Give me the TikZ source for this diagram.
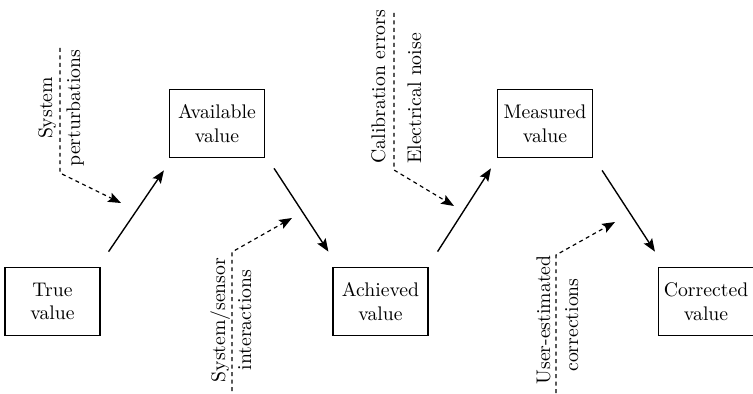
\documentclass[tikz,border=0pt]{standalone}
\usetikzlibrary{arrows.meta,calc}
\begin{document}
\begin{tikzpicture}[x=0.5076pt,y=-0.5076pt,
  valbox/.style={draw,line width=0.6pt,minimum width=48.2pt,minimum height=34.8pt,align=center,inner sep=0pt},
  flow/.style={line width=0.7pt,-{Stealth[length=6.5pt,width=5pt,inset=1.2pt]}},
  influence/.style={line width=0.6pt,dash pattern=on 2pt off 1.8pt,-{Stealth[length=6.5pt,width=5pt,inset=1.2pt]}},
  lbl/.style={rotate=90,anchor=base,inner sep=0pt}]
\useasboundingbox (0,0) rectangle (753,393);
% value boxes
\node[valbox] (true)  at (52.5,301.5) {True\\value};
\node[valbox] (avail) at (217,123.5)  {Available\\value};
\node[valbox] (achv)  at (380.5,301.5) {Achieved\\value};
\node[valbox] (meas)  at (545,123.5)  {Measured\\value};
\node[valbox] (corr)  at (706,301.5)  {Corrected\\value};
% main flow
\draw[flow] ($(true.north east)+(8,-15)$) -- ($(avail.south west)+(-5,12)$);
\draw[flow] ($(avail.south east)+(9,10)$) -- ($(achv.north west)+(-4,-15)$);
\draw[flow] ($(achv.north east)+(9,-15)$) -- ($(meas.south west)+(-6,10)$);
\draw[flow] ($(meas.south east)+(9,12)$) -- ($(corr.north west)+(-3,-15)$);
% influences
\node[lbl] (sp1) at (52,108) {System};
\node[lbl] (sp2) at (80,108) {perturbations};
\coordinate (d1a) at (60,48);
\coordinate (d1b) at (60,173);
\coordinate (d1c) at (121,203);
\draw[influence] (d1a) -- (d1b) -- (d1c);

\node[lbl] (ss1) at (225,320) {System/sensor};
\node[lbl] (ss2) at (251,320) {interactions};
\coordinate (d2a) at (232,391);
\coordinate (d2b) at (232,252);
\coordinate (d2c) at (292,218);
\draw[influence] (d2a) -- (d2b) -- (d2c);

\node[lbl] (ce1) at (385,86.5) {Calibration errors};
\node[lbl] (ce2) at (421,98.5) {Electrical noise};
\coordinate (d3a) at (394,13);
\coordinate (d3b) at (394,170);
\coordinate (d3c) at (454,206);
\draw[influence] (d3a) -- (d3b) -- (d3c);

\node[lbl] (uc1) at (550,320) {User-estimated};
\node[lbl] (uc2) at (578,325) {corrections};
\coordinate (d4a) at (556,393);
\coordinate (d4b) at (556,255);
\coordinate (d4c) at (615,222);
\draw[influence] (d4a) -- (d4b) -- (d4c);
\end{tikzpicture}
\end{document}
